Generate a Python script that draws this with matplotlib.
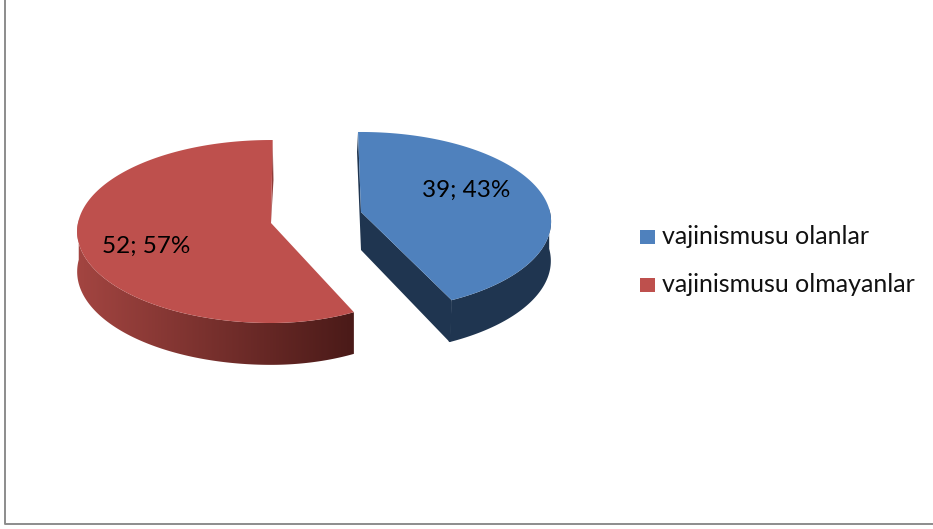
import numpy as np
import matplotlib
matplotlib.use('Agg')
import matplotlib.pyplot as plt
from matplotlib.patches import Polygon, Rectangle
from matplotlib.colors import to_rgb

labels = ['vajinismusu olanlar', 'vajinismusu olmayanlar']
values = [39, 52]
top_colors = ['#4F81BD', '#BE504D']

plt.rcParams['font.family'] = ['Lato', 'DejaVu Sans']

W, H = 933, 529
fig = plt.figure(figsize=(W / 100, H / 100), dpi=100)
ax = fig.add_axes([0, 0, 1, 1])
ax.axis('off')

# chart frame, the right and top side are cut off in the picture
ax.plot([4.5, 4.5, W], [0, 524, 524], color='#8c8c8c', lw=1.4, solid_capstyle='butt')


def rim(t, apex, rx_left, rx_right, ry, k):
    # t in degrees clockwise from the back of the pie, with a little perspective
    u = np.sin(np.radians(t))
    v = np.cos(np.radians(t))
    w = 1 + k * v
    rx = np.where(u < 0, rx_left, rx_right)
    return apex[0] + rx * u / w, apex[1] - ry * v / w


def depth_at(t, depth, k):
    return depth * (1 - 0.5 * k * np.cos(np.radians(t)))


total = sum(values)
blue_end = values[0] / total * 360

# blue slice
apex = (361, 212)
rx_l, rx_r, ry, k = 189, 189, 88.5, 0.106
d = 40
t = np.linspace(-1, blue_end, 200)
x, y = rim(t, apex, rx_l, rx_r, ry, k)
side = '#1F3550'
ax.fill([x[0], apex[0], apex[0], x[0] - 1], [y[0], apex[1], apex[1] + d - 2, y[0] + 20], color=side, lw=0)
ts = np.linspace(88, blue_end, 150)
xs, ys = rim(ts, apex, rx_l, rx_r, ry, k)
ds = depth_at(ts, d, k)
# outer side and cut face are one outline, so no seam shows at the tip
xb = xs - 2 * np.linspace(0, 1, len(xs))
side_x = np.r_[xs, apex[0], apex[0], xb[::-1]]
side_y = np.r_[ys, apex[1], apex[1] + d - 2, (ys + ds)[::-1]]
ax.fill(side_x[:len(xs)].tolist() + xb[::-1].tolist(), side_y[:len(xs)].tolist() + (ys + ds)[::-1].tolist(),
        color=side, lw=0)
ax.fill([apex[0], x[-1], x[-1], x[-1] - 2, apex[0]], [apex[1], y[-1], y[-1] + 5, y[-1] + ds[-1], apex[1] + d - 2],
        color=side, lw=0)
ax.plot([x[-1] - 1, x[-1] - 2], [y[-1] + 2, y[-1] + ds[-1] - 1], color=side, lw=1.2)
ax.add_patch(Polygon(np.c_[np.r_[x, apex[0]], np.r_[y, apex[1]]], closed=True, fc=top_colors[0], ec='none', zorder=2))

# red slice
apex = (271, 223)
rx_l, rx_r, ry, k = 193, 175, 90.7, 0.093
d = 40
t = np.linspace(blue_end, 360.6, 300)
x, y = rim(t, apex, rx_l, rx_r, ry, k)
left_col = np.array(to_rgb('#A34541'))
right_col = np.array(to_rgb('#4A1A18'))
ts = np.linspace(blue_end, 272, 260)
xs, ys = rim(ts, apex, rx_l, rx_r, ry, k)
ds = depth_at(ts, d, k)
x_lo, x_hi = xs.min(), xs.max()

# side of the red slice, gradient image clipped to its outline
grad = np.linspace(0, 1, 256)[:, None]
grad = (left_col + (right_col - left_col) * grad)[None, :, :]
im = ax.imshow(grad, extent=(x_lo, x_hi, ys.max() + 60, ys.min()), aspect='auto', zorder=1, interpolation='bilinear')
outline = Polygon(np.c_[np.r_[xs, xs[::-1]], np.r_[ys, (ys + ds)[::-1]]], closed=True, transform=ax.transData,
                  fc='none', ec='none')
ax.add_patch(outline)
im.set_clip_path(outline)

ax.fill([x[-1], x[-1] + 0.8, apex[0]], [y[-1], y[-1] + 40, apex[1]], color='#8F3C39', lw=0, zorder=1.5)
ax.add_patch(Polygon(np.c_[np.r_[x, apex[0]], np.r_[y, apex[1]]], closed=True, fc=top_colors[1], ec='none', zorder=2))

# data labels
pcts = [round(v / total * 100) for v in values]
ax.text(466, 190, f'{values[0]}; {pcts[0]}%', fontsize=17.5, color='black', ha='center', va='center', zorder=5)
ax.text(146, 246, f'{values[1]}; {pcts[1]}%', fontsize=17.5, color='black', ha='center', va='center', zorder=5)

# legend
for lab, col, yy in zip(labels, top_colors, [237, 285]):
    ax.add_patch(Rectangle((640, yy - 7), 15, 14, fc=col, ec='none'))
    ax.text(662, yy, lab, fontsize=18, color='#111111', ha='left', va='center')

ax.set_xlim(0, W)
ax.set_ylim(H, 0)
fig.savefig('out.png', dpi=100)
